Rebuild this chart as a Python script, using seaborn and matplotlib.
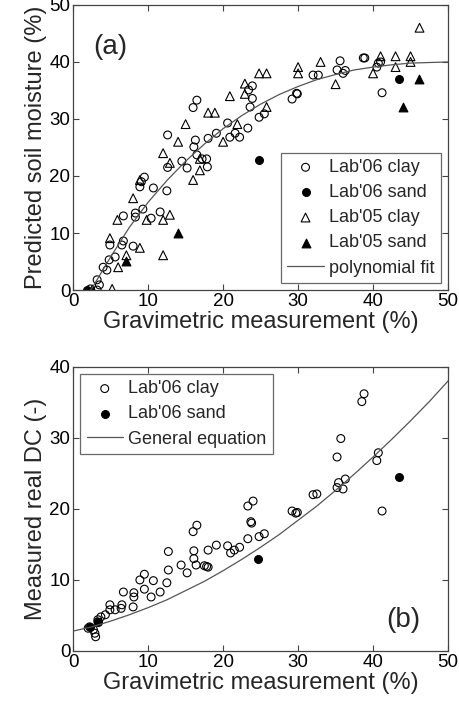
import numpy as np
import pandas as pd
import matplotlib
matplotlib.use("Agg")
import matplotlib.pyplot as plt
import seaborn as sns

# ---- panel (a) data ----
a_clay06_x = [9.5, 12.6, 16.5, 16.0, 14.5, 15.2, 16.3, 16.1, 16.5, 17.2, 17.8, 17.9, 18.0, 19.1, 20.6,
              20.9, 21.6, 22.2, 23.3, 23.4, 23.9, 23.9, 23.6, 24.8, 25.5, 29.2, 29.8, 29.9, 32.0, 32.7,
              35.6, 35.2, 36.0, 36.3, 38.7, 38.9, 40.5, 40.7, 41.0, 41.2, 12.6,
              9.1, 8.9, 10.7, 12.5, 6.7, 8.3, 8.3, 9.3, 10.4, 11.6, 4.9, 6.7, 6.5, 8.0, 4.8, 5.6,
              4.0, 4.5, 3.2, 3.5, 3.2, 2.3]
a_clay06_y = [19.8, 27.2, 33.3, 32.0, 22.6, 21.4, 26.3, 25.1, 23.7, 23.0, 23.0, 21.6, 26.6, 27.5, 29.3,
              26.8, 27.5, 26.8, 28.4, 35.1, 35.8, 33.6, 32.1, 30.3, 30.9, 33.5, 34.5, 34.4, 37.7, 37.7,
              40.2, 38.6, 38.0, 38.5, 40.7, 40.7, 39.1, 39.8, 40.0, 34.6, 21.5,
              19.0, 18.1, 17.9, 17.4, 13.0, 13.5, 12.8, 14.2, 12.6, 13.7, 7.9, 8.6, 7.9, 7.7, 5.3, 5.8,
              4.0, 3.5, 1.8, 0.9, 0.0, 0.2]
a_sand06_x = [1.9, 24.8, 43.5]
a_sand06_y = [0.0, 22.8, 37.0]
a_clay05_x = [12.0, 12.9, 14.0, 15.0, 16.0, 16.9, 16.9, 18.0, 18.9, 20.0, 20.9, 21.9, 22.9, 22.9,
              24.8, 25.8, 25.8, 30.0, 30.0, 33.0, 35.0, 40.0, 41.0, 43.0, 43.0, 45.0, 45.0, 46.2,
              8.0, 8.9, 5.9, 4.9, 9.8, 12.0, 12.9, 8.9, 7.1, 6.0, 12.0, 5.2]
a_clay05_y = [24.0, 22.3, 26.0, 29.1, 19.3, 21.0, 23.0, 31.1, 31.1, 26.0, 34.0, 29.1, 36.2, 34.4,
              38.0, 38.0, 32.1, 39.1, 38.0, 40.0, 36.1, 38.0, 41.0, 41.0, 39.1, 41.0, 40.0, 46.0,
              16.1, 19.3, 12.3, 9.1, 12.3, 12.3, 13.2, 7.4, 6.1, 4.0, 6.1, 0.2]
a_sand05_x = [2.5, 7.1, 14.0, 44.0, 46.1]
a_sand05_y = [0.1, 5.1, 10.0, 32.1, 37.0]
a_fit_x = [2.3, 2.5, 5, 7.5, 10, 12.5, 15, 17.5, 20, 22.5, 25, 27.5, 30, 32.5, 35, 37.5, 40, 42.5, 45, 47.5, 50]
a_fit_y = [0.0, 0.3, 5.8, 11.0, 15.4, 19.2, 22.6, 25.6, 28.3, 30.6, 32.6, 34.3, 35.7, 36.9, 37.8, 38.6,
           39.1, 39.5, 39.8, 39.9, 40.0]

# ---- panel (b) data ----
b_clay06_x = [16.5, 16.0, 19.1, 18.0, 16.1, 12.7, 16.1, 16.4, 17.5, 17.8, 18.0, 14.4, 15.2, 12.7, 12.5,
              9.5, 8.9, 10.7, 9.5, 11.6, 10.4, 6.7, 8.1, 8.1, 8.0, 6.5, 6.4, 4.9, 4.9, 5.6, 4.3, 3.7,
              3.3, 3.3, 2.2, 2.7, 2.9, 3.0, 2.0,
              24.0, 23.3, 23.7, 23.8, 23.3, 24.8, 25.5, 29.2, 29.7, 29.9, 32.0, 32.5, 20.6, 21.0,
              21.5, 22.2, 38.8, 38.5, 35.7, 35.2, 40.7, 40.5, 35.4, 36.3, 35.2, 36.0, 41.2]
b_clay06_y = [17.7, 16.8, 14.9, 14.2, 14.1, 14.0, 13.0, 12.1, 12.0, 11.9, 11.8, 12.1, 11.0, 11.4, 9.6,
              10.8, 10.0, 9.9, 8.7, 8.3, 7.6, 8.3, 8.2, 7.6, 6.2, 6.5, 6.0, 6.5, 5.8, 5.8, 5.1, 4.8,
              4.4, 4.1, 3.4, 3.0, 2.5, 2.0, 3.2,
              21.1, 20.4, 18.2, 18.0, 15.8, 16.1, 16.5, 19.7, 19.4, 19.5, 22.0, 22.1, 14.8, 13.8,
              14.2, 14.6, 36.2, 35.1, 29.9, 27.3, 27.9, 26.8, 23.7, 24.2, 23.0, 22.8, 19.7]
b_sand06_x = [2.2, 3.3, 24.7, 43.5]
b_sand06_y = [3.4, 4.1, 12.9, 24.5]
b_eq_x = [0, 2.5, 5, 7.5, 10, 12.5, 15, 17.5, 20, 22.5, 25, 27.5, 30, 32.5, 35, 37.5, 40, 42.5, 45, 47.5, 50]
b_eq_y = [2.8, 3.4, 4.2, 5.1, 6.1, 7.2, 8.5, 9.8, 11.3, 12.9, 14.6, 16.4, 18.4, 20.4, 22.6, 24.9,
          27.3, 29.8, 32.4, 35.1, 38.0]

sns.set_style("ticks")
plt.rcParams['font.family'] = ['Liberation Sans', 'DejaVu Sans']

fig = plt.figure(figsize=(4.6, 7.04), dpi=100)
ax1 = fig.add_axes([0.159, 0.588, 0.815, 0.405])
ax2 = fig.add_axes([0.159, 0.0753, 0.815, 0.4037])

open_kw = dict(facecolor="none", edgecolor="black", linewidth=0.8)
fill_kw = dict(color="black", edgecolor="black", linewidth=0.8)

sns.scatterplot(x=a_clay06_x, y=a_clay06_y, marker="o", s=32, ax=ax1, label="Lab'06 clay", **open_kw)
sns.scatterplot(x=a_sand06_x, y=a_sand06_y, marker="o", s=32, ax=ax1, label="Lab'06 sand", **fill_kw)
sns.scatterplot(x=a_clay05_x, y=a_clay05_y, marker="^", s=40, ax=ax1, label="Lab'05 clay", **open_kw)
sns.scatterplot(x=a_sand05_x, y=a_sand05_y, marker="^", s=40, ax=ax1, label="Lab'05 sand", **fill_kw)
sns.lineplot(x=a_fit_x, y=a_fit_y, color="#555555", lw=0.9, ax=ax1, label="polynomial fit")

sns.scatterplot(x=b_clay06_x, y=b_clay06_y, marker="o", s=32, ax=ax2, label="Lab'06 clay", **open_kw)
sns.scatterplot(x=b_sand06_x, y=b_sand06_y, marker="o", s=32, ax=ax2, label="Lab'06 sand", **fill_kw)
sns.lineplot(x=b_eq_x, y=b_eq_y, color="#555555", lw=0.9, ax=ax2, label="General equation")

for ax, ymax in [(ax1, 50), (ax2, 40)]:
    ax.set_xlim(0, 50)
    ax.set_ylim(0, ymax)
    ax.set_xticks([0, 10, 20, 30, 40, 50])
    ax.set_yticks(list(range(0, ymax + 1, 10)))
    ax.tick_params(direction="in", top=True, right=True, length=4, width=0.8,
                   labelsize=13.5, colors="#444444", labelcolor="black", pad=2)
    for sp in ax.spines.values():
        sp.set_color("#444444")
        sp.set_linewidth(0.9)
    ax.set_xlabel("Gravimetric measurement (%)", fontsize=17, labelpad=1)

ax1.set_ylabel("Predicted soil moisture (%)", fontsize=17, labelpad=2)
ax2.set_ylabel("Measured real DC (-)", fontsize=17, labelpad=2)

ax1.text(5, 42.6, "(a)", fontsize=20, ha="center", va="center")
ax2.text(44.1, 4.4, "(b)", fontsize=20, ha="center", va="center")

for ax, loc in [(ax1, "lower right"), (ax2, "upper left")]:
    leg = ax.legend(loc=loc, fontsize=13, frameon=True, fancybox=False, borderaxespad=0.4,
                    handlelength=2.0, handletextpad=0.3, labelspacing=0.45, borderpad=0.35)
    leg.get_frame().set_edgecolor("#444444")
    leg.get_frame().set_linewidth(0.9)

fig.savefig("out.png", dpi=100)
